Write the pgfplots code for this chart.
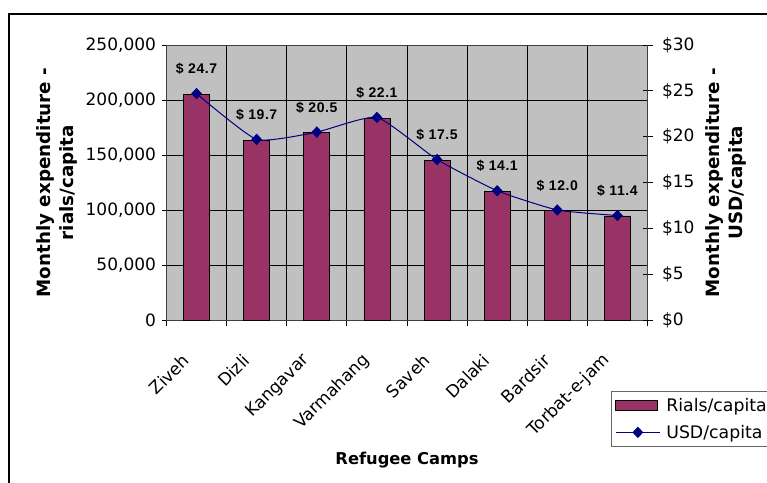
\documentclass[border=0pt]{standalone}
\usepackage{fontspec}
\setmainfont{DejaVu Sans}
\newfontfamily\lsans{Liberation Sans}[LetterSpace=4]
\usepackage{pgfplots}
\pgfplotsset{compat=1.18}
\definecolor{barc}{HTML}{993366}
\definecolor{plotbg}{HTML}{C0C0C0}
\definecolor{navyc}{HTML}{000080}
\newcommand{\tickfont}{\fontsize{17}{20}\selectfont}
\pgfplotsset{
  barleg/.style={legend image code/.code={\draw[##1] (0pt,-5pt) rectangle (42pt,5pt);}},
  lineleg/.style={legend image code/.code={\draw[mark repeat=2, mark phase=2, ##1] plot coordinates {(0pt,0pt) (22pt,0pt) (44pt,0pt)};}},
}
\begin{document}
\begin{tikzpicture}
\path[use as bounding box, clip] (0pt,0pt) rectangle (767pt,-482pt);
\fill[white] (0pt,0pt) rectangle (767pt,-482pt);
\draw[line width=2pt] (9.3pt,-13.7pt) rectangle (800pt,-520pt);
\begin{axis}[
  at={(166.5pt,-320pt)}, anchor=south west,
  scale only axis, width=481pt, height=275pt,
  axis background/.style={fill=plotbg},
  xmin=-0.5, xmax=7.5, ymin=0, ymax=250000,
  xtick={0,...,7},
  xticklabels={Ziveh,Dizli,Kangavar,Varmahang,Saveh,Dalaki,Bardsir,Torbat-e-jam},
  major x tick style={draw=none},
  minor xtick={-0.5,0.5,...,7.5},
  xminorgrids, minor x grid style={black, line width=0.8pt},
  ytick={0,50000,100000,150000,200000,250000},
  yticklabels={0,{50,000},{100,000},{150,000},{200,000},{250,000}},
  ymajorgrids, major y grid style={black, line width=0.8pt},
  tick pos=left, tick align=outside,
  major tick length=5pt, minor tick length=6pt,
  tick style={black, line width=0.8pt},
  scaled y ticks=false,
  tick label style={font=\tickfont},
  xticklabel style={xshift=-8pt, yshift=-30pt, rotate=45, anchor=east},
  yticklabel style={xshift=-2pt},
  axis line style={black!75, line width=1pt},
  ylabel={Monthly expenditure -\\rials/capita},
  ylabel style={align=center, font=\fontsize{18.3}{23}\selectfont\bfseries, at={(axis description cs:-0.1854,0.5)}, anchor=south, inner sep=0pt},
  xlabel={Refugee Camps},
  xlabel style={font=\fontsize{16.3}{19}\selectfont\bfseries, at={(axis description cs:0.5,-0.5247)}, anchor=base, inner sep=0pt},
  ybar, bar width=26pt,
]
\addplot[fill=barc, draw=black, line width=0.8pt] coordinates {
(0,205000) (1,163500) (2,170200) (3,183400) (4,145300) (5,117000) (6,99600) (7,94600)};
\end{axis}
\begin{axis}[
  at={(166.5pt,-320pt)}, anchor=south west,
  scale only axis, width=481pt, height=275pt,
  xmin=-0.5, xmax=7.5, ymin=0, ymax=30,
  hide x axis,
  axis y line*=right,
  y axis line style={-, black!75, line width=1pt},
  ytick={0,5,10,15,20,25,30},
  yticklabels={\$0,\$5,\$10,\$15,\$20,\$25,\$30},
  tick align=center, major tick length=10pt,
  tick style={black, line width=0.8pt},
  tick label style={font=\tickfont},
  yticklabel style={xshift=6pt},
  ylabel={Monthly expenditure -\\USD/capita},
  ylabel style={align=center, font=\fontsize{18.3}{23}\selectfont\bfseries, at={(axis description cs:1.2048,0.5)}, anchor=south, inner sep=0pt},
  legend style={at={(axis description cs:0.924,-0.2582)}, anchor=north west, draw=black!60, line width=0.8pt, fill=white, font=\fontsize{17.3}{20}\selectfont, inner xsep=4pt, inner ysep=5pt, row sep=8pt, /tikz/every odd column/.append style={column sep=4pt}},
  legend cell align=left,
]
\addlegendimage{barleg, fill=barc, draw=black, line width=0.8pt}
\addlegendentry{Rials/capita}
\addplot[navyc, line width=1pt, mark=diamond*, mark size=5pt, mark options={fill=navyc, solid, xscale=1.25}, smooth, tension=0.3,
  point meta=explicit symbolic,
  nodes near coords,
  every node near coord/.append style={font=\fontsize{14}{16}\selectfont\lsans\bfseries, text=black, anchor=base, yshift=20pt, inner sep=0pt},
  lineleg
] coordinates {
(0,24.7) [\$ 24.7]
(1,19.7) [\$ 19.7]
(2,20.5) [\$ 20.5]
(3,22.1) [\$ 22.1]
(4,17.5) [\$ 17.5]
(5,14.1) [\$ 14.1]
(6,12.0) [\$ 12.0]
(7,11.4) [\$ 11.4]};
\addlegendentry{USD/capita}
\end{axis}
\end{tikzpicture}
\end{document}
